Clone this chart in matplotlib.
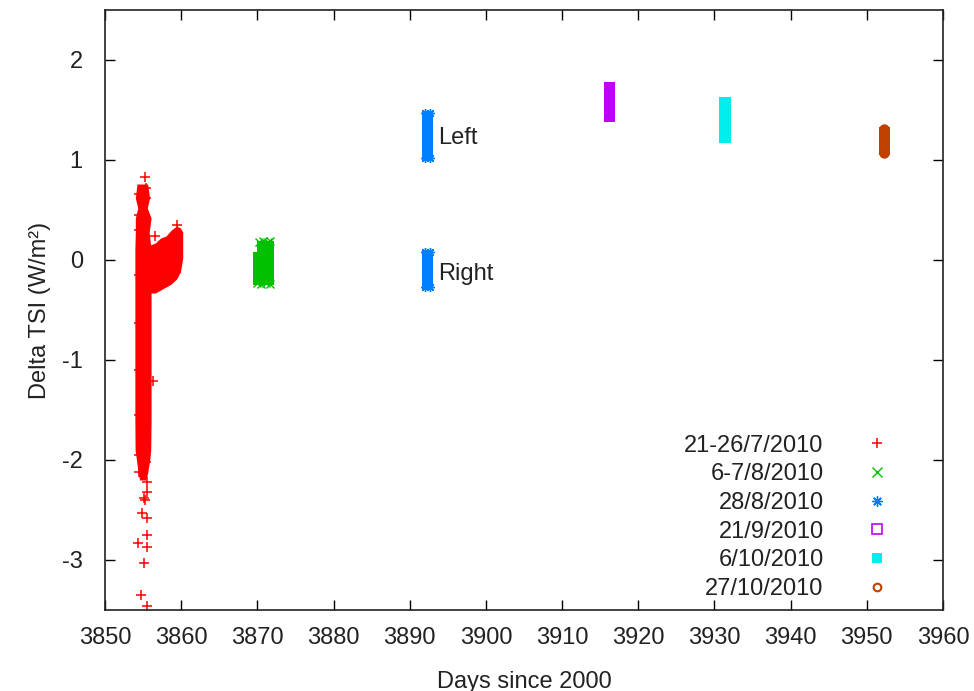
import numpy as np
import matplotlib
matplotlib.use("Agg")
import matplotlib.pyplot as plt
from matplotlib.lines import Line2D

plt.rcParams['font.family'] = ['Liberation Sans', 'DejaVu Sans']
plt.rcParams['axes.unicode_minus'] = False

# gnuplot default colours
c_red = '#ff0000'
c_green = '#00c000'
c_blue = '#0080ff'
c_purple = '#c000ff'
c_cyan = '#00eeee'
c_brown = '#c04000'

labels = ['21-26/7/2010', '6-7/8/2010', '28/8/2010', '21/9/2010', '6/10/2010', '27/10/2010']

# 21-26/7/2010: dense column (value, left day, right day)
red_col_y = [-2.20, -2.13, -1.98, -1.90, -1.60, -1.00, -0.50, 0.10, 0.28, 0.42, 0.52, 0.62, 0.76]
red_col_l = [3854.55, 3854.35, 3854.10, 3853.95, 3853.92, 3853.92, 3853.92, 3853.92, 3853.98, 3853.98, 3854.30, 3853.98, 3854.20]
red_col_r = [3855.35, 3855.60, 3855.90, 3856.00, 3856.05, 3856.05, 3856.05, 3856.05, 3855.80, 3856.05, 3855.55, 3855.85, 3855.60]
# edge points of the column
red_edge_x = [3854.50, 3855.35, 3854.50, 3855.35, 3854.50, 3855.35, 3854.50, 3855.35, 3854.50,
              3855.35, 3854.50, 3855.35, 3854.50, 3855.35, 3854.50, 3855.35, 3854.50, 3855.35]
red_edge_y = [-2.12, -2.02, -1.95, -1.72, -1.55, -1.33, -1.10, -0.88, -0.63,
              -0.40, -0.15, 0.05, 0.30, 0.40, 0.45, 0.62, 0.66, 0.72]
# hump to the right of the column (day, low, high)
red_hump_x = [3855.9, 3856.6, 3857.3, 3858.0, 3858.7, 3859.4, 3859.9, 3860.2]
red_hump_lo = [-0.33, -0.33, -0.30, -0.27, -0.24, -0.19, -0.12, 0.02]
red_hump_hi = [0.15, 0.17, 0.22, 0.24, 0.30, 0.34, 0.32, 0.28]
# scattered points
red_pts_x = [3855.25, 3856.56, 3859.40, 3856.34, 3855.47, 3855.47, 3855.12, 3855.25, 3854.82,
             3855.47, 3855.47, 3854.37, 3855.47, 3855.15, 3854.68, 3855.47]
red_pts_y = [0.83, 0.24, 0.35, -1.21, -2.22, -2.32, -2.38, -2.40, -2.53,
             -2.58, -2.75, -2.83, -2.87, -3.03, -3.35, -3.46]

# 6-7/8/2010
green_x = [3869.4, 3869.9, 3869.9, 3872.2]
green_lo = [-0.25, -0.25, -0.25, -0.25]
green_hi = [0.08, 0.08, 0.19, 0.19]
green_edge_x = [3870.2, 3870.8, 3871.4, 3871.7, 3869.9, 3870.5, 3871.1, 3871.7]
green_edge_y = [0.18, 0.19, 0.18, 0.19, -0.23, -0.24, -0.23, -0.24]

# 28/8/2010, left and right radiometer
blue_x = [3891.6, 3893.1]
blue_left_lo = [1.00, 1.00]
blue_left_hi = [1.49, 1.49]
blue_right_lo = [-0.29, -0.29]
blue_right_hi = [0.10, 0.10]
blue_edge_x = [3892.0, 3892.6, 3892.0, 3892.6, 3892.0, 3892.6, 3892.0, 3892.6]
blue_edge_y = [1.47, 1.47, 1.02, 1.02, 0.08, 0.08, -0.27, -0.27]

# 21/9/2010
purple_x = [3915.5, 3917.0]
purple_lo = [1.38, 1.38]
purple_hi = [1.78, 1.78]

# 6/10/2010
cyan_x = [3930.6, 3932.2]
cyan_lo = [1.17, 1.17]
cyan_hi = [1.63, 1.63]

# 27/10/2010
brown_x = [3951.6, 3953.0]
brown_lo = [1.05, 1.05]
brown_hi = [1.33, 1.33]
brown_edge_x = [3952.3, 3952.3]
brown_edge_y = [1.31, 1.07]

fig = plt.figure(figsize=(9.74, 6.91), dpi=100)
ax = fig.add_axes([105/974, 1-610/691, 838/974, 600/691])

ax.fill_betweenx(red_col_y, red_col_l, red_col_r, color=c_red, lw=0)
ax.fill_between(red_hump_x, red_hump_lo, red_hump_hi, color=c_red, lw=0)
ax.plot(red_edge_x, red_edge_y, ls='none', marker='+', ms=7.5, mew=1.1, color=c_red)
ax.plot(red_pts_x, red_pts_y, ls='none', marker='+', ms=7.5, mew=1.1, color=c_red)

ax.fill_between(green_x, green_lo, green_hi, color=c_green, lw=0)
ax.plot(green_edge_x, green_edge_y, ls='none', marker='x', ms=5.5, mew=1.0, color=c_green)
ax.fill_between(blue_x, blue_left_lo, blue_left_hi, color=c_blue, lw=0)
ax.fill_between(blue_x, blue_right_lo, blue_right_hi, color=c_blue, lw=0)
ax.plot(blue_edge_x, blue_edge_y, ls='none', marker=(8, 2, 0), ms=6.5, mew=1.0, color=c_blue)
ax.fill_between(purple_x, purple_lo, purple_hi, color=c_purple, lw=0)
ax.fill_between(cyan_x, cyan_lo, cyan_hi, color=c_cyan, lw=0)
ax.fill_between(brown_x, brown_lo, brown_hi, color=c_brown, lw=0)
ax.plot(brown_edge_x, brown_edge_y, ls='none', marker='o', ms=7.5, mew=0, color=c_brown)

ax.text(3893.7, 1.22, 'Left', fontsize=17, color='#222222', va='center', ha='left')
ax.text(3893.7, -0.14, 'Right', fontsize=17, color='#222222', va='center', ha='left')

handles = [
    Line2D([], [], ls='none', marker='+', ms=7.5, mew=1.1, color=c_red),
    Line2D([], [], ls='none', marker='x', ms=6.5, mew=1.0, color=c_green),
    Line2D([], [], ls='none', marker=(8, 2, 0), ms=7.5, mew=1.0, color=c_blue),
    Line2D([], [], ls='none', marker='s', ms=6.5, mew=1.2, mfc='none', color=c_purple),
    Line2D([], [], ls='none', marker='s', ms=6.5, mew=0, color=c_cyan),
    Line2D([], [], ls='none', marker='o', ms=5.5, mew=1.5, mfc='none', color=c_brown),
]
leg = ax.legend(handles, labels, loc='lower right', markerfirst=False, frameon=False,
                bbox_to_anchor=(0.949, 0.017), borderaxespad=0, borderpad=0,
                handlelength=2.0, handletextpad=1.25, labelspacing=0.28,
                fontsize=17, labelcolor='#222222')

ax.set_xlim(3850, 3960)
ax.set_ylim(-3.5, 2.5)
ax.set_xticks(np.arange(3850, 3961, 10))
ax.set_yticks([-3, -2, -1, 0, 1, 2])
ax.tick_params(direction='in', length=7, width=1, top=True, right=True,
               labelsize=17, labelcolor='#222222')
ax.tick_params(axis='x', pad=12)
ax.tick_params(axis='y', pad=16)
for s in ax.spines.values():
    s.set_linewidth(1.2)
    s.set_color('#222222')

ax.set_xlabel('Days since 2000', fontsize=17, color='#222222', labelpad=16)
ax.set_ylabel('Delta TSI (W/m²)', fontsize=17, color='#222222', labelpad=8)

fig.savefig('out.png', dpi=100)
